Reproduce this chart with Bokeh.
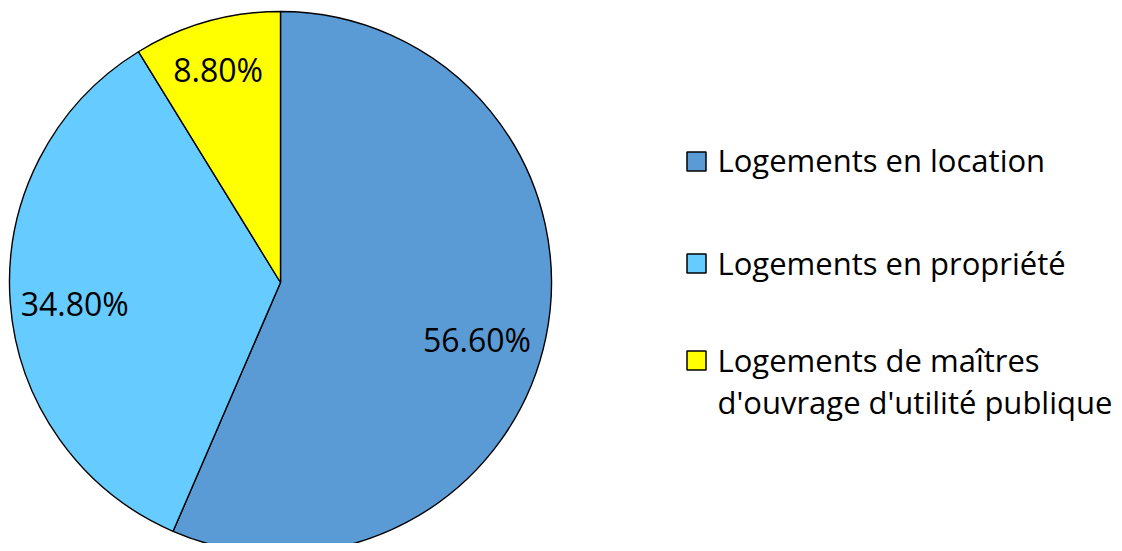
import math
from bokeh.plotting import figure
from bokeh.models import Range1d, ColumnDataSource
from bokeh.core.properties import value
from bokeh.embed import file_html
from bokeh.resources import INLINE

# ---- data ----
categories = ["Logements en location", "Logements en propriété",
              "Logements de maîtres\nd'ouvrage d'utilité publique"]
shares = [56.6, 34.8, 8.8]
share_labels = ["56.60%", "34.80%", "8.80%"]
colors = ["#5B9BD5", "#66CCFF", "#FFFF00"]

# ---- layout (screen px) ----
W, H = 1114, 543
def Y(ys):
    return H - ys  # screen y -> data y

cx, cy, R = 280, Y(282), 271
label_r = [0.755, 0.763, 0.82]
label_nudge = [-4.5, 1.6, 0.5]  # degrees

p = figure(width=W, height=H, output_backend="svg", toolbar_location=None,
           x_range=Range1d(0, W), y_range=Range1d(0, H),
           min_border=0, outline_line_color=None)
p.axis.visible = False
p.grid.visible = False
p.background_fill_color = "white"
p.border_fill_color = "white"

total = sum(shares)
starts, ends, lx, ly = [], [], [], []
acc = 0.0
for i, s in enumerate(shares):
    a0 = math.pi / 2 - 2 * math.pi * acc / total
    a1 = math.pi / 2 - 2 * math.pi * (acc + s) / total
    starts.append(a0)
    ends.append(a1)
    mid = (a0 + a1) / 2 + math.radians(label_nudge[i])
    lx.append(cx + label_r[i] * R * math.cos(mid))
    ly.append(cy + label_r[i] * R * math.sin(mid))
    acc += s

src = ColumnDataSource(dict(start=starts, end=ends, color=colors))
p.wedge(x=cx, y=cy, radius=R, radius_units="screen", start_angle="start",
        end_angle="end", direction="clock", fill_color="color",
        line_color="black", line_width=1.4, source=src)

p.text(x=lx, y=ly, text=share_labels, text_font=value("Open Sans"),
       text_font_size="32px", text_align="center", text_baseline="middle",
       text_color="black")

# legend
sq_y = [Y(161), Y(263), Y(360)]
p.scatter(x=[696] * 3, y=sq_y, marker="square", size=19, fill_color=colors,
          line_color="black", line_width=1.5)
mid_y = [159.5, 262, 359.5]
tx, ty, tt = [], [], []
for i, c in enumerate(categories):
    for j, line in enumerate(c.split("\n")):
        tx.append(717)
        ty.append(Y(mid_y[i] + 42 * j))
        tt.append(line)
p.text(x=tx, y=ty, text=tt, text_font=value("Open Sans"), text_font_size="31px",
       text_align="left", text_baseline="middle", text_color="black")

open("out.html", "w").write(file_html(p, INLINE))
